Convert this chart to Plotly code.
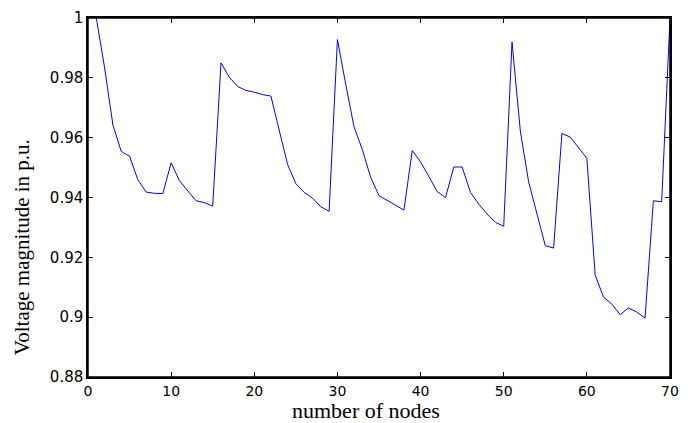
import plotly.graph_objects as go

nodes = list(range(1, 71))
voltage = [
    1.0, 0.9833, 0.9642, 0.9554, 0.9538, 0.9459, 0.9418, 0.9414, 0.9413, 0.9516,
    0.9456, 0.9422, 0.9389, 0.9383, 0.9371, 0.9850, 0.9802, 0.9771, 0.9758, 0.9752,
    0.9744, 0.9739, 0.9622, 0.9511, 0.9446, 0.9417, 0.9398, 0.9369, 0.9354, 0.9928,
    0.9778, 0.9636, 0.9560, 0.9467, 0.9406, 0.9390, 0.9374, 0.9358, 0.9557, 0.9519,
    0.9470, 0.9420, 0.9400, 0.9502, 0.9502, 0.9417, 0.9378, 0.9345, 0.9317, 0.9304,
    0.9920, 0.9622, 0.9452, 0.9344, 0.9239, 0.9231, 0.9614, 0.9602, 0.9567, 0.9531,
    0.9141, 0.9067, 0.9044, 0.9008, 0.9031, 0.9017, 0.8997, 0.9389, 0.9386, 1.0,
]
x_ticks = [0, 10, 20, 30, 40, 50, 60, 70]
y_ticks = [0.88, 0.9, 0.92, 0.94, 0.96, 0.98, 1]
y_tick_text = ["0.88", "0.9", "0.92", "0.94", "0.96", "0.98", "1"]

fig = go.Figure()
fig.add_trace(go.Scatter(x=nodes, y=voltage, mode="lines",
                         line=dict(color="#0000ff", width=1)))

axis_common = dict(showgrid=False, zeroline=False, showline=True, linecolor="#000000",
                   linewidth=1.5, mirror="ticks", ticks="inside", ticklen=5,
                   tickcolor="#000000", tickwidth=1, ticklabeloverflow="allow")

fig.update_layout(
    width=688, height=423,
    margin=dict(l=88, r=9, t=17, b=46),
    paper_bgcolor="white", plot_bgcolor="white",
    showlegend=False,
    xaxis=dict(range=[0, 70], tickvals=x_ticks,
               tickfont=dict(family="DejaVu Sans", size=14, color="black"), **axis_common),
    yaxis=dict(range=[0.88, 1], tickvals=y_ticks, ticktext=y_tick_text,
               tickfont=dict(family="DejaVu Sans", size=15, color="black"), **axis_common),
    shapes=[dict(type="rect", xref="paper", yref="paper", x0=0, y0=0, x1=1, y1=1,
                 line=dict(color="black", width=1.5), layer="above")],
    annotations=[
        dict(text="number of nodes", xref="paper", yref="paper", x=(370 - 88) / 591,
             y=-(411 - 377) / 360, xanchor="center", yanchor="middle", showarrow=False,
             font=dict(family="Liberation Serif", size=22, color="black")),
        dict(text="Voltage magnitude in p.u.", xref="paper", yref="paper",
             x=-0.112, y=(377 - 247) / 360, xanchor="center", yanchor="middle",
             textangle=-90, showarrow=False,
             font=dict(family="Liberation Serif", size=21, color="black")),
    ],
)

fig.write_html("out.html", config={"displayModeBar": False},
               post_script="document.body.style.margin='0';document.body.style.overflow='hidden';")
